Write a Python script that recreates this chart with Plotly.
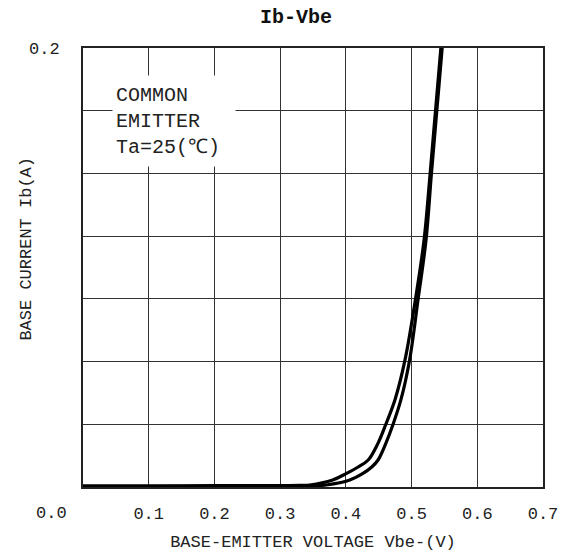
import plotly.graph_objects as go

# ---- data ----
VBE_A = [0.00, 0.10, 0.20, 0.30, 0.33, 0.345, 0.380, 0.401, 0.418, 0.434, 0.449, 0.461,
         0.475, 0.490, 0.506, 0.519, 0.528, 0.536, 0.544, 0.546]
IB_A = [0.0005, 0.0005, 0.0006, 0.0006, 0.0007, 0.0009, 0.0032, 0.0062, 0.0090, 0.0123,
        0.020, 0.0287, 0.040, 0.0579, 0.0857, 0.1125, 0.142, 0.170, 0.198, 0.206]

VBE_B = [0.00, 0.10, 0.20, 0.30, 0.35, 0.370, 0.406, 0.426, 0.439, 0.449, 0.461, 0.472,
         0.484, 0.497, 0.510, 0.522, 0.530, 0.538, 0.546, 0.548]
IB_B = [0.0002, 0.0002, 0.0003, 0.0003, 0.0005, 0.0009, 0.0032, 0.0062, 0.0090, 0.0123,
        0.020, 0.0287, 0.040, 0.0579, 0.0857, 0.1125, 0.142, 0.170, 0.198, 0.206]

X_TICKS = [0.1, 0.2, 0.3, 0.4, 0.5, 0.6, 0.7]
X_TICK_TEXT = ["0.1", "0.2", "0.3", "0.4", "0.5", "0.6", "0.7"]
Y_TICKS = [0.2]
Y_TICK_TEXT = ["0.2"]
X_RANGE = [0.0, 0.7]
Y_RANGE = [0.0, 0.2]
Y_DIVISIONS = 7

FONT = "Liberation Mono, Courier New, monospace"

fig = go.Figure()
for vx, iy in ((VBE_A, IB_A), (VBE_B, IB_B)):
    fig.add_trace(go.Scatter(x=vx, y=iy, mode="lines",
                             line=dict(color="black", width=3.2, shape="spline", smoothing=1.0),
                             showlegend=False, hoverinfo="skip"))

fig.update_layout(
    width=562, height=559,
    margin=dict(l=83, r=19, t=48, b=72, autoexpand=False),
    paper_bgcolor="white", plot_bgcolor="white",
    font=dict(family=FONT, size=17, color="#222"),
    title=dict(text="<b>Ib-Vbe</b>", x=296 / 562, xanchor="center", y=1 - 16 / 559,
               yanchor="middle", font=dict(family=FONT, size=20, color="#111")),
    showlegend=False,
)
fig.update_xaxes(
    range=X_RANGE, tickvals=X_TICKS, ticktext=X_TICK_TEXT, ticks="",
    ticklabelstandoff=10,
    showgrid=True, gridcolor="#333", gridwidth=1.3,
    showline=True, linecolor="#222", linewidth=2, mirror=True, zeroline=False,
    title=dict(text="BASE-EMITTER VOLTAGE Vbe-(V)", standoff=12,
               font=dict(family=FONT, size=17, color="#222")),
)
fig.update_yaxes(
    range=Y_RANGE, tickvals=Y_TICKS, ticktext=Y_TICK_TEXT, ticks="",
    ticklabelstandoff=18,
    showgrid=False,
    minor=dict(dtick=(Y_RANGE[1] - Y_RANGE[0]) / Y_DIVISIONS, tick0=0, showgrid=True,
               gridcolor="#333", gridwidth=1.3, ticks=""),
    showline=True, linecolor="#222", linewidth=2, mirror=True, zeroline=False,
)

# shared corner label "0.0"
fig.add_annotation(text="0.0", xref="paper", yref="paper", x=-0.0686, y=-0.0615,
                   xanchor="center", yanchor="middle", showarrow=False,
                   font=dict(family=FONT, size=17, color="#222"))
# y-axis title
fig.add_annotation(text="BASE CURRENT Ib(A)", xref="paper", yref="paper", x=-0.123, y=0.544,
                   xanchor="center", yanchor="middle", textangle=-90, showarrow=False,
                   font=dict(family=FONT, size=17, color="#222"))
# condition box
fig.add_annotation(text="COMMON<br>EMITTER<br>Ta=25(℃)", xref="paper", yref="paper",
                   x=0.062, y=0.9385, xanchor="left", yanchor="top", align="left",
                   valign="middle", width=116, height=84, borderpad=3,
                   bgcolor="white", showarrow=False,
                   font=dict(family=FONT, size=20, color="#222"))

fig.write_html("out.html", config={"displayModeBar": False},
               post_script="document.body.style.margin='0';")
